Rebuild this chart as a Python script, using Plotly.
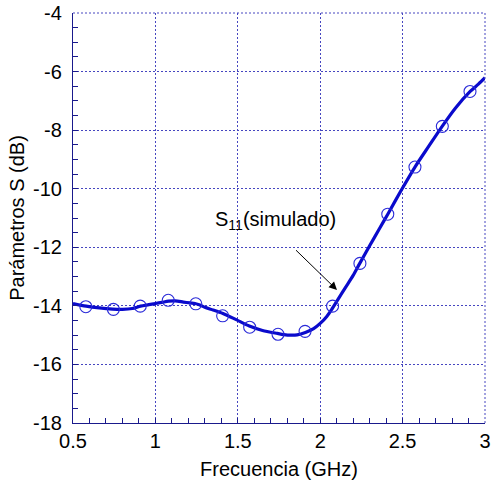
import plotly.graph_objects as go

# Simulated S11 curve (GHz, dB)
freq_line = [0.50, 0.58, 0.66, 0.74, 0.80, 0.86, 0.91, 0.96, 1.00, 1.04, 1.08, 1.12, 1.17, 1.21, 1.24, 1.27,
             1.30, 1.35, 1.41, 1.49, 1.57, 1.65, 1.74, 1.78, 1.82, 1.86, 1.91, 1.96, 2.00, 2.04, 2.07,
             2.11, 2.15, 2.20, 2.24, 2.30, 2.36, 2.41, 2.49, 2.575, 2.66, 2.74, 2.82, 2.91, 2.96, 3.00]
s11_line = [-13.92, -14.01, -14.07, -14.11, -14.12, -14.09, -14.01, -13.96, -13.92, -13.88, -13.84, -13.83, -13.87, -13.90, -13.92, -13.97,
            -14.05, -14.14, -14.26, -14.47, -14.69, -14.84, -14.94, -14.98, -15.00, -14.99, -14.91, -14.78, -14.60, -14.36, -14.12,
            -13.76, -13.40, -12.96, -12.55, -11.95, -11.36, -10.87, -10.07, -9.26, -8.54, -7.87, -7.25, -6.68, -6.43, -6.21]

# Circle markers (GHz, dB)
freq_pts = [0.578, 0.745, 0.908, 1.078, 1.245, 1.408, 1.572, 1.744, 1.908, 2.075, 2.241, 2.41, 2.575, 2.741, 2.909]
s11_pts = [-14.03, -14.12, -14.01, -13.81, -13.93, -14.34, -14.73, -14.97, -14.87, -14.01, -12.55, -10.87, -9.26, -7.87, -6.68]

x_ticks = [0.5, 1, 1.5, 2, 2.5, 3]
y_ticks = [-18, -16, -14, -12, -10, -8, -6, -4]

FONT = "Liberation Sans, Arial, sans-serif"
AXIS_COL = "#1a1a8c"
GRID_COL = "#4646c0"
GRID_DASH = "2px,2px"

fig = go.Figure()
fig.add_trace(go.Scatter(x=freq_line, y=s11_line, mode="lines",
                         line=dict(color="#0a0acc", width=3.2, shape="spline", smoothing=0.8),
                         showlegend=False, hoverinfo="skip"))
fig.add_trace(go.Scatter(x=freq_pts, y=s11_pts, mode="markers",
                         marker=dict(symbol="circle-open", size=12, color="#2a2ad8", line=dict(width=1.1)),
                         showlegend=False))

fig.add_annotation(x=1.726, y=-11.08, xref="x", yref="y", text="S<sub>11</sub>(simulado)", showarrow=False,
                   font=dict(family=FONT, size=20, color="black"))
fig.add_annotation(x=2.102, y=-13.46, ax=1.835, ay=-12.0, xref="x", yref="y", axref="x", ayref="y",
                   text=" ", showarrow=True, arrowhead=2, arrowsize=1.6, arrowwidth=1, arrowcolor="black")

# top and right dotted grid lines at the range ends
fig.add_shape(type="line", xref="paper", yref="paper", x0=0, x1=1, y0=1, y1=1,
              line=dict(color=GRID_COL, width=1, dash=GRID_DASH))
fig.add_shape(type="line", xref="paper", yref="paper", x0=1, x1=1, y0=0, y1=1,
              line=dict(color=GRID_COL, width=1, dash=GRID_DASH))

fig.update_xaxes(range=[0.5, 3], tickvals=x_ticks, ticktext=[str(v) for v in x_ticks], automargin=False,
                 showline=True, linecolor=AXIS_COL, linewidth=1.2, mirror=False,
                 ticks="inside", ticklen=5, tickcolor=AXIS_COL,
                 minor=dict(dtick=0.1, tick0=0.5, ticks="inside", ticklen=5, tickcolor=AXIS_COL, showgrid=False),
                 showgrid=True, gridcolor=GRID_COL, griddash=GRID_DASH, gridwidth=1, zeroline=False,
                 tickfont=dict(family=FONT, size=20, color="black"),
                 title=dict(text="Frecuencia (GHz)", font=dict(family=FONT, size=20, color="black"), standoff=10))
fig.update_yaxes(range=[-18, -4], tickvals=y_ticks, ticktext=[str(v) for v in y_ticks], automargin=False,
                 showline=True, linecolor=AXIS_COL, linewidth=1.2, mirror=False,
                 ticks="inside", ticklen=5, tickcolor=AXIS_COL, ticklabelstandoff=6,
                 minor=dict(dtick=0.5, tick0=-18, ticks="inside", ticklen=5, tickcolor=AXIS_COL, showgrid=False),
                 showgrid=True, gridcolor=GRID_COL, griddash=GRID_DASH, gridwidth=1, zeroline=False,
                 tickfont=dict(family=FONT, size=20, color="black"),
                 title=dict(text="Parámetros S (dB)", font=dict(family=FONT, size=20, color="black"), standoff=2))

fig.update_layout(width=492, height=480, margin=dict(l=73, r=7, t=13, b=57),
                  plot_bgcolor="white", paper_bgcolor="white")

fig.write_html("out.html")
